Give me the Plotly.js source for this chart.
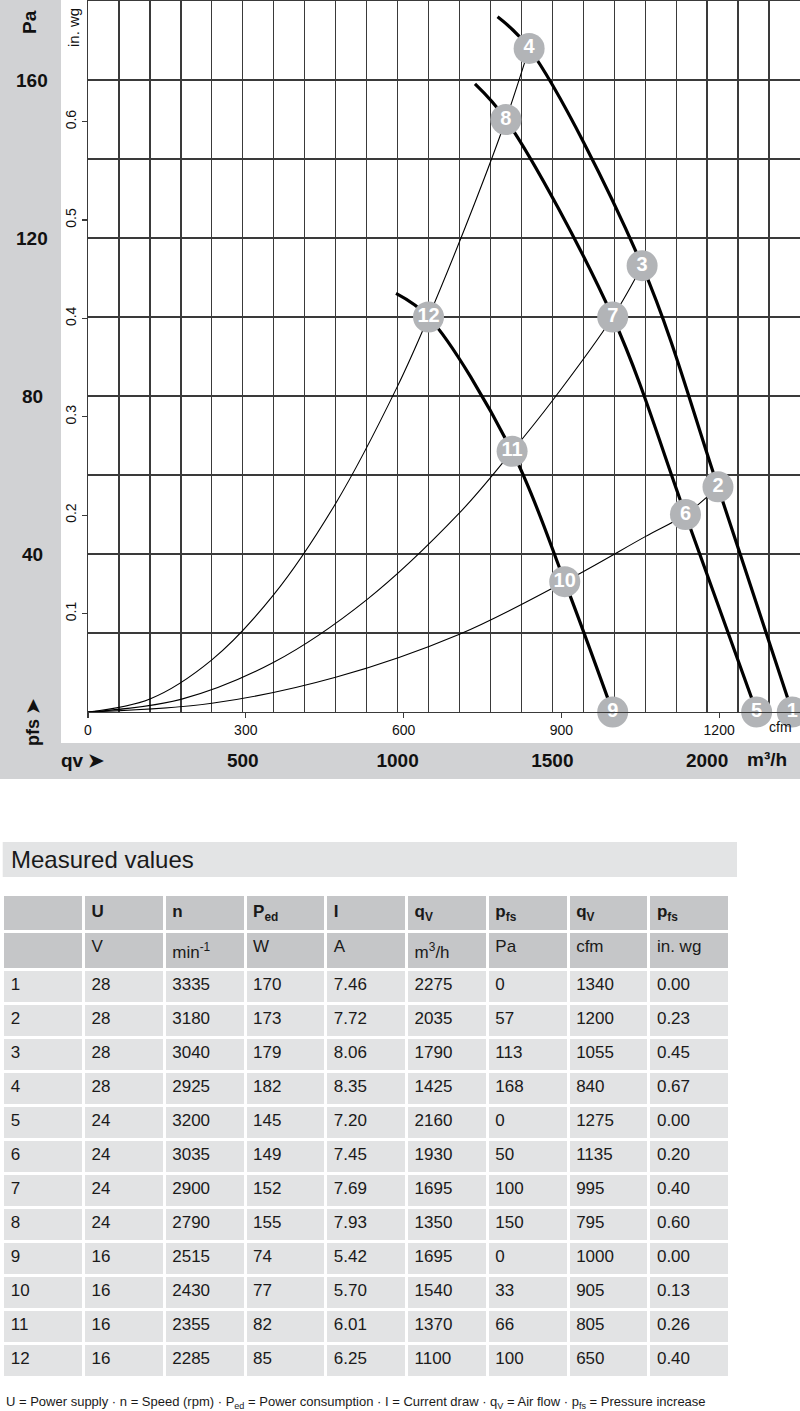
<!DOCTYPE html>
<html><head><meta charset="utf-8">
<script src="https://cdn.plot.ly/plotly-3.0.1.min.js"></script>
<style>html,body{margin:0;padding:0;background:#fff}#chart{width:800px;height:1411px}</style>
</head><body><div id="chart"></div>
<script>
// ---------- measured values (table) ----------
const pointNo   = [1,2,3,4,5,6,7,8,9,10,11,12];
const U_V       = [28,28,28,28,24,24,24,24,16,16,16,16];
const n_rpm     = [3335,3180,3040,2925,3200,3035,2900,2790,2515,2430,2355,2285];
const Ped_W     = [170,173,179,182,145,149,152,155,74,77,82,85];
const I_A       = [7.46,7.72,8.06,8.35,7.20,7.45,7.69,7.93,5.42,5.70,6.01,6.25];
const qv_m3h    = [2275,2035,1790,1425,2160,1930,1695,1350,1695,1540,1370,1100];
const pfs_Pa    = [0,57,113,168,0,50,100,150,0,33,66,100];
const qv_cfm    = [1340,1200,1055,840,1275,1135,995,795,1000,905,805,650];
const pfs_inwg  = [0.00,0.23,0.45,0.67,0.00,0.20,0.40,0.60,0.00,0.13,0.26,0.40];

// ---------- fan curves (m3/h, Pa) ----------
const fan28_q = [1323,1425,1790,2035,2275];
const fan28_p = [176,168,113,57,0];
const fan24_q = [1250,1350,1695,1930,2160];
const fan24_p = [159,150,100,50,0];
const fan16_q = [995,1100,1370,1540,1695];
const fan16_p = [106,100,66,33,0];

// ---------- system curves (m3/h, Pa) ----------
const sysA_q = [0,200,400,600,800,1000,1100,1250,1350,1425];
const sysA_p = [0,3.3,13.2,29.7,52.8,82.5,100,129,150,168];
const sysB_q = [0,300,600,900,1200,1370,1500,1695,1790];
const sysB_p = [0,3.2,12.6,28.4,50.4,66,78.8,100,113];
const sysC_q = [0,400,800,1200,1540,1800,1930,2035];
const sysC_p = [0,2.2,8.8,19.7,33,44.4,50,57];

// ---------- axes / tick labels ----------
const m3hTicks  = [500,1000,1500,2000];
const cfmTicks  = [0,300,600,900,1200];
const paGrid    = [0,20,40,60,80,100,120,140,160,180];
const paLabels  = [40,80,120,160];
const inwgTicks = [0.1,0.2,0.3,0.4,0.5,0.6];
const headerLabels = ['', '<b>U</b>', '<b>n</b>', '<b>P<sub>ed</sub></b>', '<b>I</b>', '<b>q<sub>V</sub></b>', '<b>p<sub>fs</sub></b>', '<b>q<sub>V</sub></b>', '<b>p<sub>fs</sub></b>'];
const unitLabels   = ['', 'V', 'min<sup>-1</sup>', 'W', 'A', 'm<sup>3</sup>/h', 'Pa', 'cfm', 'in. wg'];

const W = 800, H = 1411;
const px = v => v / W;
const py = v => 1 - v / H;
const F  = 'Liberation Sans, Arial, Helvetica, sans-serif';
const TF = 'Liberation Sans Narrow, Arial Narrow, Liberation Sans, Arial, sans-serif';
const GRID = '#3a3a3a';
const TXT = '#111111';
const CFM_PER_M3H = 0.588578;
const PA_PER_INWG = 249.089;

const thin  = {color:'#000', width:1.1, shape:'spline', smoothing:1};
const thick = {color:'#000', width:3.2, shape:'spline', smoothing:1};

const traces = [
  {x:sysA_q, y:sysA_p, mode:'lines', line:thin, hoverinfo:'skip'},
  {x:sysB_q, y:sysB_p, mode:'lines', line:thin, hoverinfo:'skip'},
  {x:sysC_q, y:sysC_p, mode:'lines', line:thin, hoverinfo:'skip'},
  {x:fan28_q, y:fan28_p, mode:'lines', line:thick, hoverinfo:'skip'},
  {x:fan24_q, y:fan24_p, mode:'lines', line:thick, hoverinfo:'skip'},
  {x:fan16_q, y:fan16_p, mode:'lines', line:thick, hoverinfo:'skip'},
  {x:qv_m3h, y:pfs_Pa, mode:'markers+text', text:pointNo.map(String), textposition:'middle center',
   cliponaxis:false,
   marker:{size:31, color:'#b2b4b7', line:{width:0}},
   textfont:{family:F, size:20, color:'#ffffff', weight:'bold'}, hoverinfo:'skip'},
  {x:[], y:[], xaxis:'x2', yaxis:'y2', mode:'markers', hoverinfo:'skip'}
];

// table
const fmt2 = v => v.toFixed(2);
const dataCols = [
  pointNo.map(String), U_V.map(String), n_rpm.map(String), Ped_W.map(String),
  I_A.map(fmt2), qv_m3h.map(String), pfs_Pa.map(String), qv_cfm.map(String), pfs_inwg.map(fmt2)
];
const cellCols = dataCols.map((c, i) => [unitLabels[i]].concat(c));
const HEAD = '#c5c6c8', ROW = '#e2e3e4';
const cellFill = cellCols.map(c => c.map((v, r) => r === 0 ? HEAD : ROW));

traces.push({
  type:'table',
  domain:{x:[px(2.7), px(730.5)], y:[py(1392), py(894)]},
  columnwidth: headerLabels.map(() => 1),
  header:{values: headerLabels, align:'left', height:34.6,
          fill:{color:HEAD}, line:{color:'#ffffff', width:3},
          font:{family:TF, size:17, color:'#1a1a1a'}},
  cells:{values: cellCols, align:'left', height:34.0,
         fill:{color:cellFill}, line:{color:'#ffffff', width:3},
         font:{family:TF, size:17, color:'#1a1a1a'}}
});

const A = (x, y, text, size, extra) => Object.assign(
  {xref:'paper', yref:'paper', x:px(x), y:py(y), xanchor:'center', yanchor:'middle',
   text:text, showarrow:false, font:{family:F, size:size, color:TXT}}, extra || {});

const ann = [];
ann.push(A(29.5, 22.5, '<b>Pa</b>', 19, {textangle:-90}));
ann.push(A(74, 28, 'in. wg', 15, {textangle:-90}));
paLabels.forEach(v => ann.push({xref:'paper', yref:'y', x:px(32), y:v, xanchor:'center', yanchor:'middle',
  text:'<b>'+v+'</b>', showarrow:false, font:{family:F, size:19, color:TXT}}));
ann.push(A(33, 722, '<b>pfs ➤</b>', 18, {textangle:-90}));
ann.push(A(82, 760, '<b>qv ➤</b>', 19));
ann.push(A(767, 759, '<b>m³/h</b>', 19));
ann.push(A(780, 727, 'cfm', 14));
ann.push(A(9, 860, 'Measured values', 24, {xanchor:'left', font:{family:F, size:24, color:'#1a1a1a'}}));
ann.push(A(4, 1402, 'U = Power supply · n = Speed (rpm) · P<sub>ed</sub> = Power consumption · I = Current draw · q<sub>V</sub> = Air flow · p<sub>fs</sub> = Pressure increase',
  13, {xanchor:'left', font:{family:TF, size:13, color:'#1a1a1a'}}));

const layout = {
  width:W, height:H, margin:{l:0, r:0, t:0, b:0},
  paper_bgcolor:'#ffffff', plot_bgcolor:'#ffffff', showlegend:false,
  xaxis:{domain:[px(88),1], range:[0,2300], anchor:'y', fixedrange:true,
         tickvals:m3hTicks, ticktext:m3hTicks.map(String), ticks:'',
         tickfont:{family:F, size:19, color:TXT, weight:'bold'}, ticklabelstandoff:31,
         showgrid:true, gridcolor:GRID, gridwidth:1.3,
         minor:{dtick:100, tick0:0, showgrid:true, gridcolor:GRID, gridwidth:1.3, ticks:''},
         showline:true, linecolor:GRID, linewidth:1.3, mirror:true, zeroline:false},
  yaxis:{domain:[py(712), py(1)], range:[0,180], anchor:'x', fixedrange:true,
         tickvals:paGrid, showticklabels:false, ticks:'',
         showgrid:true, gridcolor:GRID, gridwidth:1.3,
         showline:true, linecolor:GRID, linewidth:1.3, mirror:true, zeroline:false},
  xaxis2:{overlaying:'x', anchor:'y', side:'bottom', range:[0, 2300*CFM_PER_M3H], fixedrange:true,
          tickvals:cfmTicks, ticks:'outside', ticklen:5, tickwidth:1.2, tickcolor:GRID,
          tickfont:{family:F, size:14, color:TXT}, showgrid:false, zeroline:false, showline:false},
  yaxis2:{overlaying:'y', anchor:'x', side:'left', range:[0, 180/PA_PER_INWG], fixedrange:true,
          tickvals:inwgTicks, ticks:'outside', ticklen:5, tickwidth:1.2, tickcolor:GRID, tickangle:-90,
          tickfont:{family:F, size:14, color:TXT}, showgrid:false, zeroline:false, showline:false},
  shapes:[
    {type:'rect', xref:'paper', yref:'paper', x0:0, x1:px(61), y0:py(779), y1:1, fillcolor:'#d1d2d4', line:{width:0}, layer:'below'},
    {type:'rect', xref:'paper', yref:'paper', x0:0, x1:1, y0:py(779), y1:py(743), fillcolor:'#d1d2d4', line:{width:0}, layer:'below'},
    {type:'rect', xref:'paper', yref:'paper', x0:px(2.7), x1:px(737), y0:py(877), y1:py(842), fillcolor:'#e3e4e5', line:{width:0}, layer:'below'}
  ],
  annotations:ann
};

Plotly.newPlot('chart', traces, layout, {staticPlot:true, displayModeBar:false});
</script></body></html>
